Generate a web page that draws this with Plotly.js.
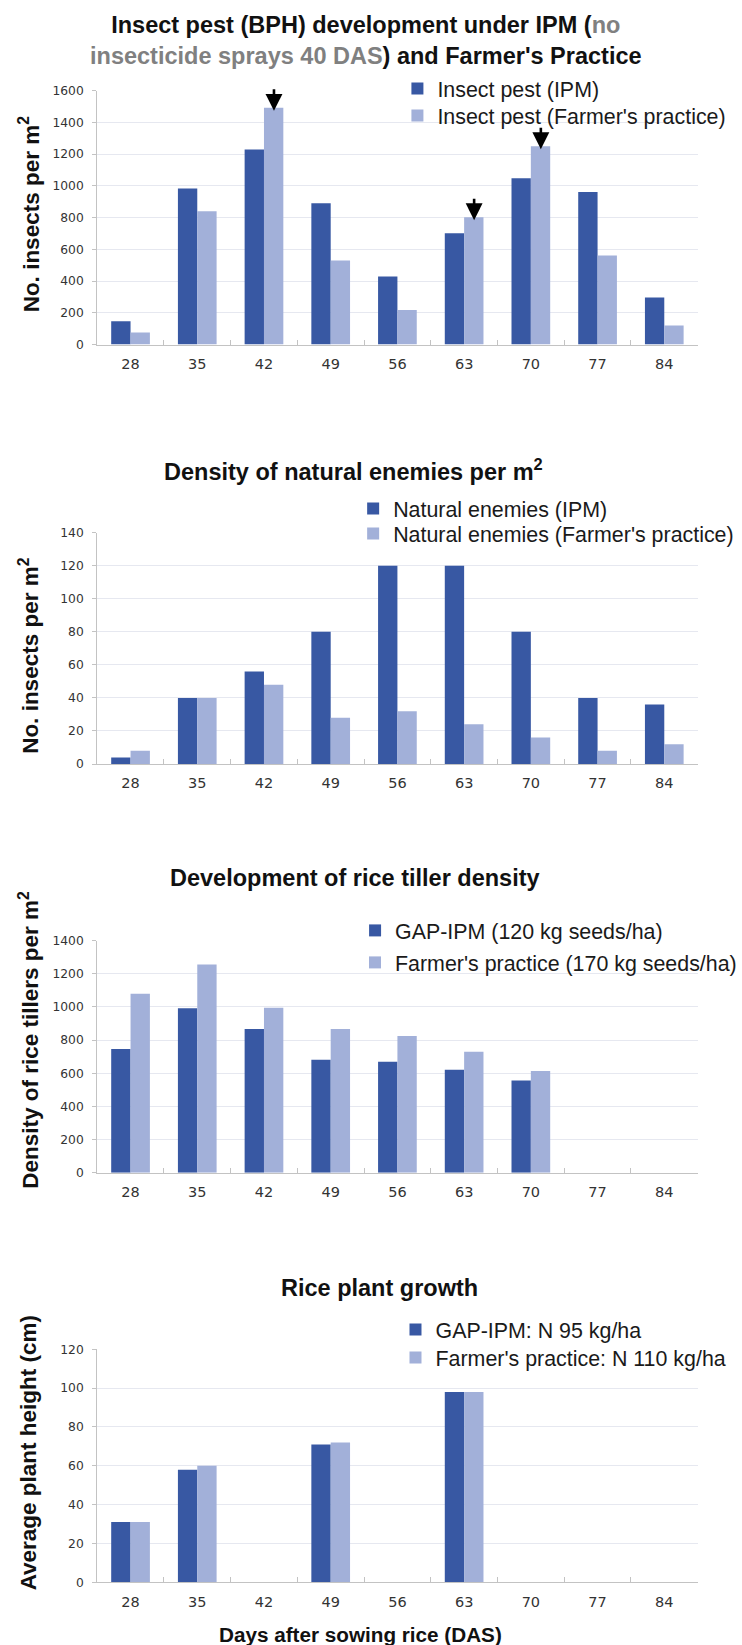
<!DOCTYPE html>
<html>
<head>
<meta charset="utf-8">
<script src="https://cdn.plot.ly/plotly-3.0.1.min.js"></script>
<style>
html,body{margin:0;padding:0;background:#fff;}
#chart{width:742px;height:1645px;}
</style>
</head>
<body>
<div id="chart"></div>
<script>
// ---------- data ----------
var days = ['28','35','42','49','56','63','70','77','84'];

var pestIPM = [147, 983, 1228, 890, 428, 701, 1048, 960, 296];
var pestFP  = [76, 840, 1491, 529, 218, 802, 1249, 561, 120];
var arrowDays = ['42','63','70'];

var enemyIPM = [4, 40, 56, 80, 120, 120, 80, 40, 36];
var enemyFP  = [8, 40, 48, 28, 32, 24, 16, 8, 12];

var tillerIPM = [746, 992, 867, 682, 670, 622, 557, null, null];
var tillerFP  = [1080, 1256, 996, 867, 825, 730, 614, null, null];

var heightIPM = [31, 58, null, 71, null, 98, null, null, null];
var heightFP  = [31, 60, null, 72, null, 98, null, null, null];

var names1 = ['Insect pest (IPM)', "Insect pest (Farmer's practice)"];
var names2 = ['Natural enemies (IPM)', "Natural enemies (Farmer's practice)"];
var names3 = ['GAP-IPM (120 kg seeds/ha)', "Farmer's practice (170 kg seeds/ha)"];
var names4 = ['GAP-IPM: N 95 kg/ha', "Farmer's practice: N 110 kg/ha"];

var yTitles = ['No. insects per m<sup>2</sup>', 'No. insects per m<sup>2</sup>',
               'Density of rice tillers per m<sup>2</sup>', 'Average plant height (cm)'];
var xTitle = 'Days after sowing rice (DAS)';

// ---------- styling ----------
var W = 742, H = 1645;
var C_IPM = '#3858a3', C_FP = '#a2b0d9';
var titleFont = {family: 'Liberation Sans, Arial, sans-serif', size: 23.5, color: '#111'};
var legFont = {family: 'Liberation Sans, Arial, sans-serif', size: 21.4, color: '#1a1a1a'};
var tickFontY = {family: 'DejaVu Sans, Verdana, sans-serif', size: 12.3, color: '#333'};
var tickFontX = {family: 'DejaVu Sans, Verdana, sans-serif', size: 14.5, color: '#333'};

function py(px){ return 1 - px / H; }
function pxX(px){ return px / W; }

var xdom = [pxX(101), pxX(725)];
var ydoms = [[py(344.5), py(90.5)], [py(764), py(532.7)], [py(1172.7), py(940.7)], [py(1582.3), py(1349.3)]];
var yranges = [[0,1600],[0,140],[0,1400],[0,120]];
var ydticks = [200, 20, 200, 20];

var sets = [[pestIPM, pestFP, names1], [enemyIPM, enemyFP, names2], [tillerIPM, tillerFP, names3], [heightIPM, heightFP, names4]];

// one legend per entry: [text-left x, row centre y] in page pixels
var legRows = [
  [[446, 88], [446, 115]],
  [[400, 508], [400, 533]],
  [[402, 930], [402, 962]],
  [[444, 1329], [444, 1357]]
];

var data = [];
var layout = {
  width: W, height: H,
  margin: {l:0, r:0, t:0, b:0},
  paper_bgcolor: '#fff', plot_bgcolor: '#fff',
  barmode: 'group', bargap: 0.42, bargroupgap: 0,
  showlegend: true,
  annotations: [],
  font: {family: 'Liberation Sans, Arial, sans-serif'}
};

var legN = 0;
function nextLegend(px, pyc){
  legN++;
  var key = legN === 1 ? 'legend' : 'legend' + legN;
  layout[key] = {x: pxX(px - 33), y: py(pyc - 20), xanchor: 'left', yanchor: 'top', font: legFont,
                 bgcolor: 'rgba(0,0,0,0)', borderwidth: 0, itemclick: false, itemdoubleclick: false};
  return key;
}

sets.forEach(function(s, i){
  var sfx = i === 0 ? '' : String(i+1);
  var l1 = nextLegend(legRows[i][0][0], legRows[i][0][1]);
  var l2 = nextLegend(legRows[i][1][0], legRows[i][1][1]);
  data.push({type:'bar', x: days, y: s[0], name: s[2][0], marker:{color:C_IPM, line:{width:0}},
             xaxis:'x'+sfx, yaxis:'y'+sfx, legend: l1, hoverinfo:'none'});
  data.push({type:'bar', x: days, y: s[1], name: s[2][1], marker:{color:C_FP, line:{width:0}},
             xaxis:'x'+sfx, yaxis:'y'+sfx, legend: l2, hoverinfo:'none'});
});

for (var i = 0; i < 4; i++) {
  var sfx = i === 0 ? '' : String(i+1);
  layout['xaxis'+sfx] = {
    domain: xdom, anchor: 'y'+sfx, type: 'category', categoryorder: 'array', categoryarray: days,
    range: [-0.5, days.length - 0.5],
    showline: true, linecolor: '#c3c3c3', linewidth: 1,
    ticks: 'inside', tickson: 'boundaries', ticklen: 5, tickcolor: '#c3c3c3',
    tickfont: tickFontX, ticklabelstandoff: 6, showgrid: false, fixedrange: true
  };
  layout['yaxis'+sfx] = {
    domain: ydoms[i], anchor: 'x'+sfx, range: yranges[i], dtick: ydticks[i], tick0: 0,
    showline: true, linecolor: '#c3c3c3', linewidth: 1,
    ticks: 'outside', ticklen: 4, tickcolor: '#c3c3c3',
    tickfont: tickFontY, ticklabelstandoff: 6,
    showgrid: true, gridcolor: '#e6e8f0', gridwidth: 1, zeroline: false, fixedrange: true
  };
}

// titles
var t1 = 'Insect pest (BPH) development under IPM (<span style="color:#808080">no</span><br>' +
         '<span style="color:#808080">insecticide sprays 40 DAS</span>) and Farmer\'s Practice';
var titles = [
  {text: t1, x: 380, y: 40},
  {text: 'Density of natural enemies per m<sup>2</sup>', x: 367, y: 470},
  {text: 'Development of rice tiller density', x: 369, y: 878},
  {text: 'Rice plant growth', x: 394, y: 1288}
];
titles.forEach(function(t){
  layout.annotations.push({xref:'paper', yref:'paper', x: pxX(t.x), y: py(t.y), xanchor:'center', yanchor:'middle',
    text: '<b>' + t.text + '</b>', showarrow: false, font: titleFont, align: 'center'});
});

// y-axis titles
var yTitleY = [213.5, 655, 1040, 1452.5];
yTitles.forEach(function(t, i){
  layout.annotations.push({xref:'paper', yref:'paper', x: pxX(30), y: py(yTitleY[i]), xanchor:'center', yanchor:'middle',
    text: '<b>' + t + '</b>', textangle: -90, showarrow: false,
    font: {family: 'Liberation Sans, Arial, sans-serif', size: 22.5, color: '#111'}});
});

// x-axis title (bottom panel)
layout.annotations.push({xref:'paper', yref:'paper', x: pxX(375), y: py(1634), xanchor:'center', yanchor:'middle',
  text: '<b>' + xTitle + '</b>', showarrow: false,
  font: {family: 'Liberation Sans, Arial, sans-serif', size: 20.7, color: '#111'}});

// arrows on the farmer's practice bars (x given as category index)
arrowDays.forEach(function(d){
  var idx = days.indexOf(d);
  layout.annotations.push({xref:'x', yref:'y', x: idx, y: pestFP[idx], xshift: 10, yshift: -3,
    text: '', showarrow: true, ax: 0, ay: -23, arrowhead: 2, arrowsize: 1.3, arrowwidth: 2.6,
    arrowcolor: '#000', standoff: 0});
});

Plotly.newPlot('chart', data, layout, {staticPlot: true, displayModeBar: false});
</script>
</body>
</html>
